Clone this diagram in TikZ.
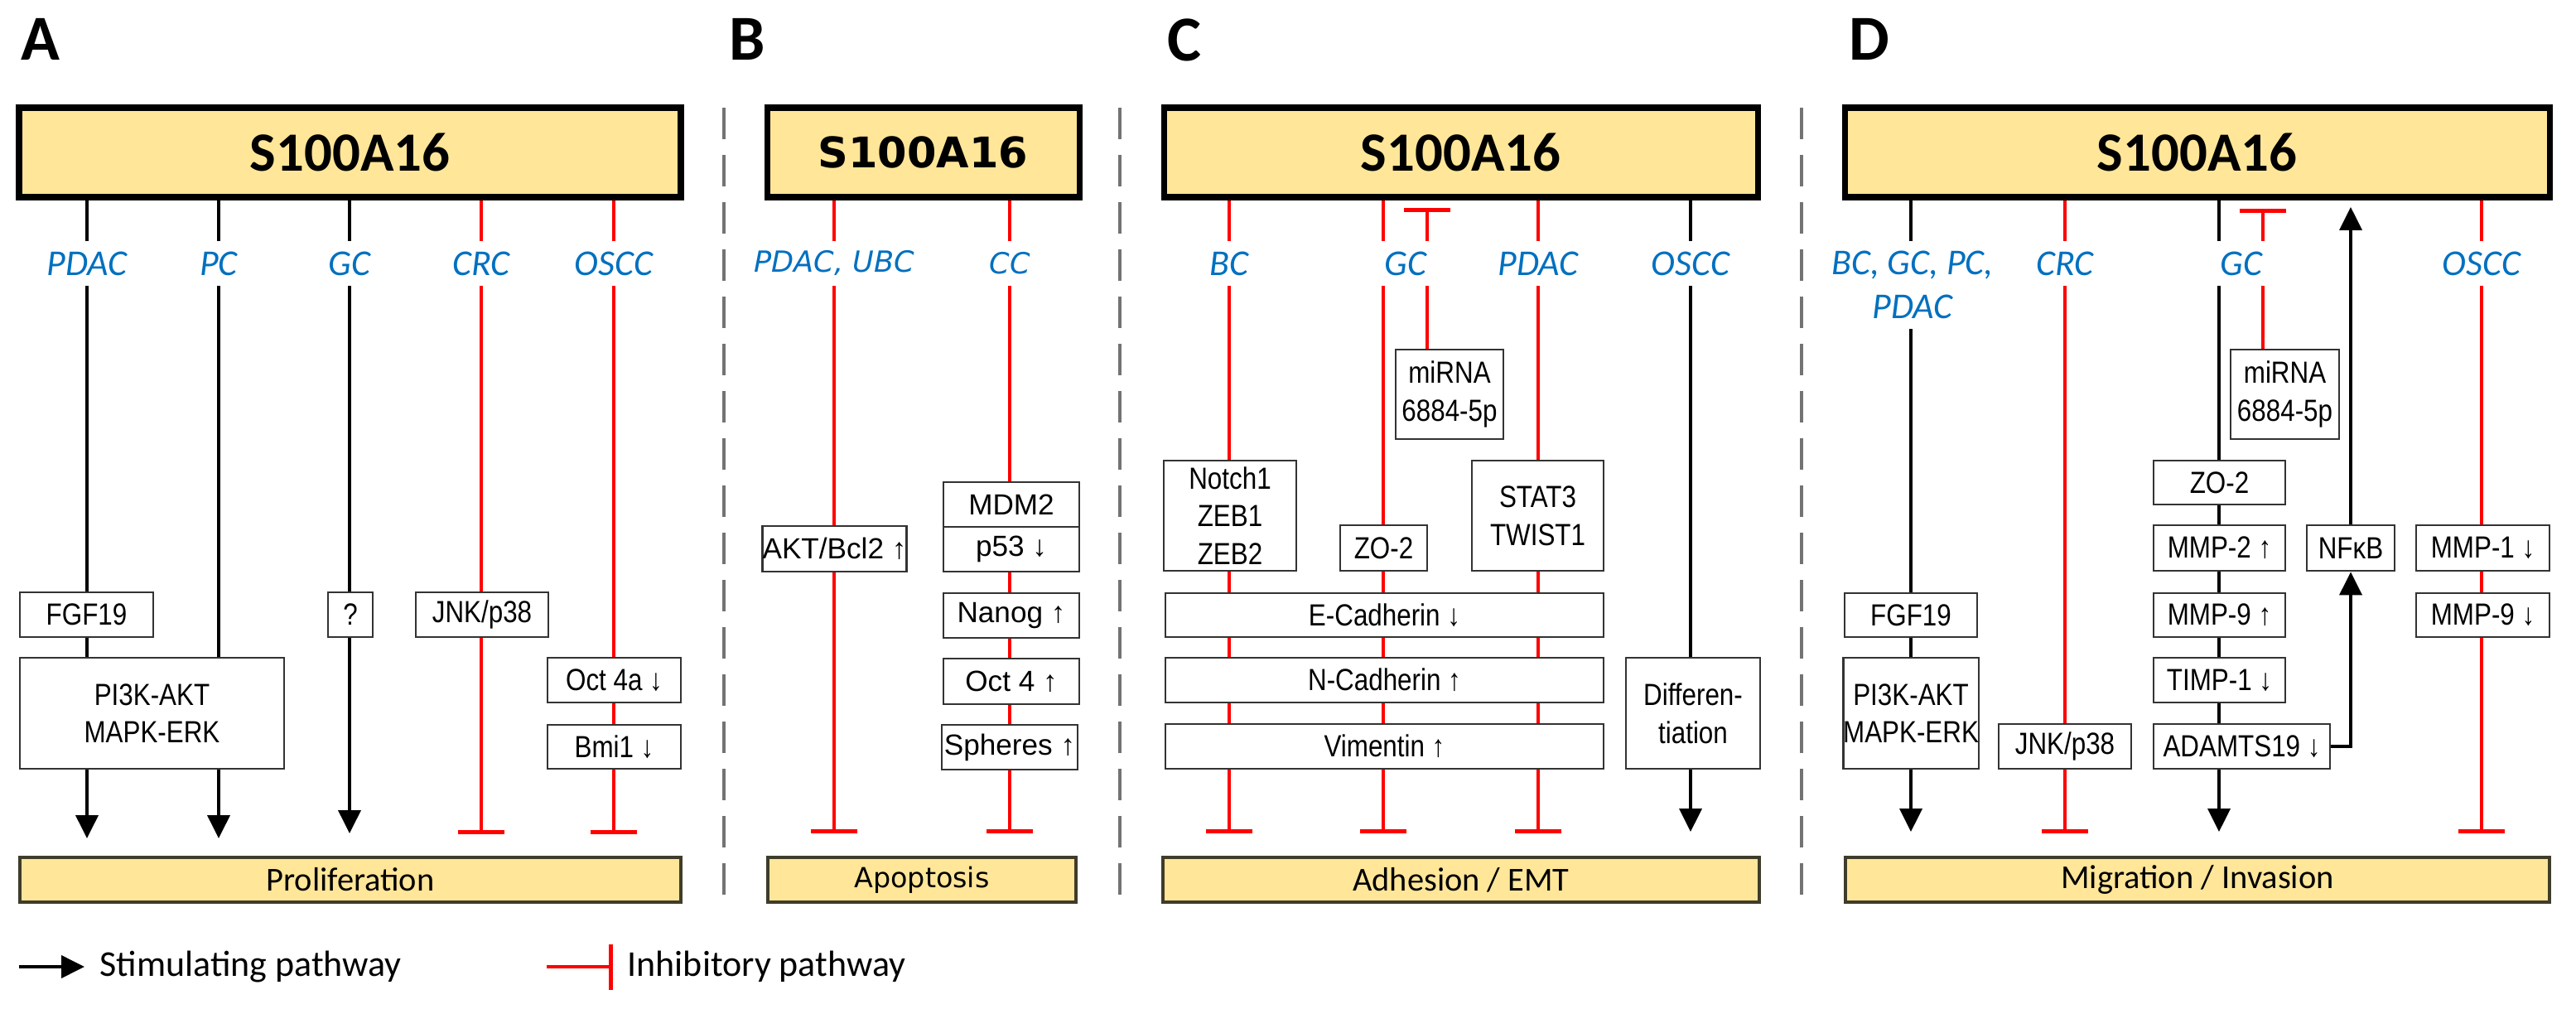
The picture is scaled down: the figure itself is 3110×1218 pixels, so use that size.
\documentclass[tikz,border=0pt]{standalone}
\usepackage{fontspec}
\setmainfont{Carlito}
\newfontfamily\nar{Liberation Sans}[FakeStretch=0.85]
\newfontfamily\ari{Liberation Sans}
\newfontfamily\dej{DejaVu Sans}
\usetikzlibrary{arrows.meta,backgrounds}
\definecolor{myyel}{HTML}{FFE699}
\definecolor{myblue}{HTML}{0070C0}
\definecolor{myred}{HTML}{FF0000}
\definecolor{botdraw}{HTML}{3F3C2A}
\newcommand\mybox[7][bx]{\node[#1,minimum width={(#4-#3)*0.1mm},minimum height={(#6-#5)*0.1mm}] (#2) at ({(#3+#4)/2},{-(#5+#6)/2}) {#7};}
\begin{document}
\begin{tikzpicture}[x=0.1mm,y=0.1mm,
  bx/.style={draw=black!80, line width=0.8pt, fill=white, inner sep=0pt, align=center, font=\nar\fontsize{10.5}{13}\selectfont},
  bxb/.style={bx, font=\ari\fontsize{10}{12}\selectfont},
  ttl/.style={draw=black, line width=2pt, fill=myyel, inner sep=0pt, font=\fontsize{19}{19}\selectfont\bfseries},
  ttlb/.style={ttl, font=\dej\fontsize{14.5}{15}\selectfont\bfseries},
  bot/.style={draw=botdraw, line width=1.2pt, fill=myyel, inner sep=0pt, font=\fontsize{11.5}{12}\selectfont},
  botb/.style={bot, font=\dej\fontsize{9.5}{10}\selectfont},
  lab/.style={fill=white, text=myblue, inner xsep=2pt, inner ysep=0pt, minimum height=5.4mm, align=center, font=\fontsize{12.5}{15}\selectfont\itshape},
  labb/.style={lab, font=\dej\fontsize{10}{12}\selectfont\itshape},
  stim/.style={black, line width=1.1pt, -{Triangle[length=2.8mm,width=2.7mm]}},
  inh/.style={myred, line width=1.1pt, -{Bar[width=5.6mm,line width=1.5pt]}},
  panel/.style={font=\fontsize{22}{22}\selectfont\bfseries, anchor=north west, inner sep=0pt},
  divider/.style={black!55, line width=1.3pt, dash pattern=on 3.8mm off 1.9mm}
]
\useasboundingbox (0,0) rectangle (3110,-1218);
% panel letters
\node[panel] (pA) at (25,-22) {A};
\node[panel] (pB) at (880,-22) {B};
\node[panel] (pC) at (1409,-22) {C};
\node[panel] (pD) at (2232,-22) {D};
% dividers
\coordinate (dA1) at (874,-130); \coordinate (dA2) at (874,-1092);
\coordinate (dB1) at (1352,-130); \coordinate (dB2) at (1352,-1092);
\coordinate (dC1) at (2175,-130); \coordinate (dC2) at (2175,-1092);
\draw[divider] (dA1) -- (dA2);
\draw[divider] (dB1) -- (dB2);
\draw[divider] (dC1) -- (dC2);

%% ===== Panel A =====
\mybox[ttl]{tA}{23}{822}{130}{238}{S100A16}
\mybox[bot]{bA}{24}{822}{1035}{1089}{Proliferation}
\node[lab] (lA1) at (105,-318) {PDAC};
\node[lab] (lA2) at (264,-318) {PC};
\node[lab] (lA3) at (422,-318) {GC};
\node[lab] (lA4) at (581,-318) {CRC};
\node[lab] (lA5) at (741,-318) {OSCC};
\mybox{fgfA}{24}{185}{715}{769}{FGF19}
\mybox{qA}{396}{450}{715}{769}{?}
\mybox{jnkA}{502}{662}{715}{769}{JNK/p38}
\mybox{piA}{24}{343}{794}{928}{PI3K-AKT\\MAPK-ERK}
\mybox{octA}{661}{822}{794}{848}{Oct 4a ↓}
\mybox{bmiA}{661}{822}{875}{928}{Bmi1 ↓}
\coordinate (eA1) at (105,-1012);
\coordinate (eA2) at (264,-1012);
\coordinate (eA3) at (422,-1006);
\coordinate (eA4) at (581,-1007);
\coordinate (eA5) at (741,-1007);

%% ===== Panel B =====
\mybox[ttlb]{tB}{926}{1303}{130}{238}{S100A16}
\mybox[botb]{bB}{927}{1299}{1035}{1089}{Apoptosis}
\node[labb] (lB1) at (1007,-318) {PDAC, UBC};
\node[labb] (lB2) at (1219,-318) {CC};
\mybox[bxb]{aktB}{927}{1088}{635}{690}{AKT/Bcl2 ↑}
\mybox[bxb]{mdmB}{1139}{1303}{582}{636}{MDM2}
\mybox[bxb]{p53B}{1139}{1303}{636}{690}{p53 ↓}
\mybox[bxb]{nanB}{1139}{1303}{716}{770}{Nanog ↑}
\mybox[bxb]{oct4B}{1139}{1303}{795}{850}{Oct 4 ↑}
\mybox[bxb]{sphB}{1137}{1301}{875}{929}{Spheres ↑}
\coordinate (eB1) at (1007,-1006);
\coordinate (eB2) at (1219,-1006);

%% ===== Panel C =====
\mybox[ttl]{tC}{1405}{2122}{130}{238}{S100A16}
\mybox[bot]{bC}{1404}{2124}{1035}{1089}{Adhesion / EMT}
\node[lab] (lC1) at (1484,-318) {BC};
\node[lab, minimum width=7mm] (lC2) at (1697,-318) {GC};
\node[lab] (lC3) at (1857,-318) {PDAC};
\node[lab] (lC4) at (2041,-318) {OSCC};
\mybox{miC}{1685}{1815}{422}{530}{miRNA\\6884-5p}
\mybox{notC}{1405}{1565}{556}{689}{Notch1\\ZEB1\\ZEB2}
\mybox{zoC}{1618}{1723}{634}{689}{ZO-2}
\mybox{stC}{1777}{1936}{556}{689}{STAT3\\TWIST1}
\mybox{eC}{1407}{1936}{716}{769}{E-Cadherin ↓}
\mybox{nC}{1407}{1936}{794}{848}{N-Cadherin ↑}
\mybox{vC}{1407}{1936}{874}{928}{Vimentin ↑}
\mybox{difC}{1963}{2125}{794}{928}{Differen-\\tiation}
\coordinate (eC1) at (1484,-1006);
\coordinate (eC2) at (1670,-1006);
\coordinate (eC3) at (1857,-1006);
\coordinate (eC4) at (2041,-1004);
\coordinate (miCt) at (1723,-251);

%% ===== Panel D =====
\mybox[ttl]{tD}{2227}{3078}{130}{238}{S100A16}
\mybox[bot]{bD}{2228}{3078}{1035}{1089}{Migration / Invasion}
\node[lab, minimum height=10.6mm] (lD1) at (2309,-344) {BC, GC, PC,\\PDAC};
\node[lab] (lD2) at (2493,-318) {CRC};
\node[lab, minimum width=7mm] (lD3) at (2706,-318) {GC};
\node[lab] (lD4) at (2996,-318) {OSCC};
\mybox{miD}{2693}{2824}{422}{530}{miRNA\\6884-5p}
\mybox{zoD}{2600}{2759}{556}{609}{ZO-2}
\mybox{mm2D}{2600}{2759}{634}{689}{MMP-2 ↑}
\mybox{mm9D}{2600}{2759}{716}{769}{MMP-9 ↑}
\mybox{timD}{2600}{2759}{794}{848}{TIMP-1 ↓}
\mybox{adD}{2600}{2813}{874}{928}{ADAMTS19 ↓}
\mybox{nfD}{2785}{2891}{634}{689}{NFκB}
\mybox{mm1D}{2917}{3078}{634}{689}{MMP-1 ↓}
\mybox{mm9bD}{2917}{3078}{716}{769}{MMP-9 ↓}
\mybox{fgfD}{2227}{2387}{716}{769}{FGF19}
\mybox{piD}{2227}{2387}{794}{928}{PI3K-AKT\\MAPK-ERK}
\mybox{jnkD}{2413}{2573}{874}{928}{JNK/p38}
\coordinate (eD1) at (2307,-1004);
\coordinate (eD2) at (2493,-1006);
\coordinate (eD3) at (2679,-1004);
\coordinate (eD4) at (2996,-1006);
\coordinate (miDt) at (2732,-252);
\coordinate (nfTop) at (2838,-250);
\draw[stim] (adD.east) -| (nfD.south);

%% ===== Connectors (behind boxes) =====
\begin{pgfonlayer}{background}
\draw[stim] (tA.south -| eA1) -- (eA1);
\draw[stim] (tA.south -| eA2) -- (eA2);
\draw[stim] (tA.south -| eA3) -- (eA3);
\draw[inh] (tA.south -| eA4) -- (eA4);
\draw[inh] (tA.south -| eA5) -- (eA5);
\draw[inh] (tB.south -| eB1) -- (eB1);
\draw[inh] (tB.south -| eB2) -- (eB2);
\draw[inh] (tC.south -| eC1) -- (eC1);
\draw[inh] (tC.south -| eC2) -- (eC2);
\draw[inh] (tC.south -| eC3) -- (eC3);
\draw[stim] (tC.south -| eC4) -- (eC4);
\draw[inh] (miC.north -| miCt) -- (miCt);
\draw[stim] (tD.south -| eD1) -- (eD1);
\draw[inh] (tD.south -| eD2) -- (eD2);
\draw[stim] (tD.south -| eD3) -- (eD3);
\draw[inh] (tD.south -| eD4) -- (eD4);
\draw[inh] (miD.north -| miDt) -- (miDt);
\draw[stim] (nfD.north -| nfTop) -- (nfTop);
\end{pgfonlayer}

%% ===== Legend =====
\coordinate (lg1) at (23,-1167); \coordinate (lg2) at (102,-1167);
\draw[stim] (lg1) -- (lg2);
\node[anchor=west, inner sep=0pt, font=\fontsize{12.5}{13}\selectfont] (lgt1) at (120,-1167) {Stimulating pathway};
\coordinate (lg3) at (660,-1167); \coordinate (lg4) at (740,-1167);
\draw[myred, line width=1.1pt, -{Bar[width=5.5mm,line width=1.5pt]}] (lg3) -- (lg4);
\node[anchor=west, inner sep=0pt, font=\fontsize{12.5}{13}\selectfont] (lgt2) at (757,-1167) {Inhibitory pathway};
\end{tikzpicture}
\end{document}
